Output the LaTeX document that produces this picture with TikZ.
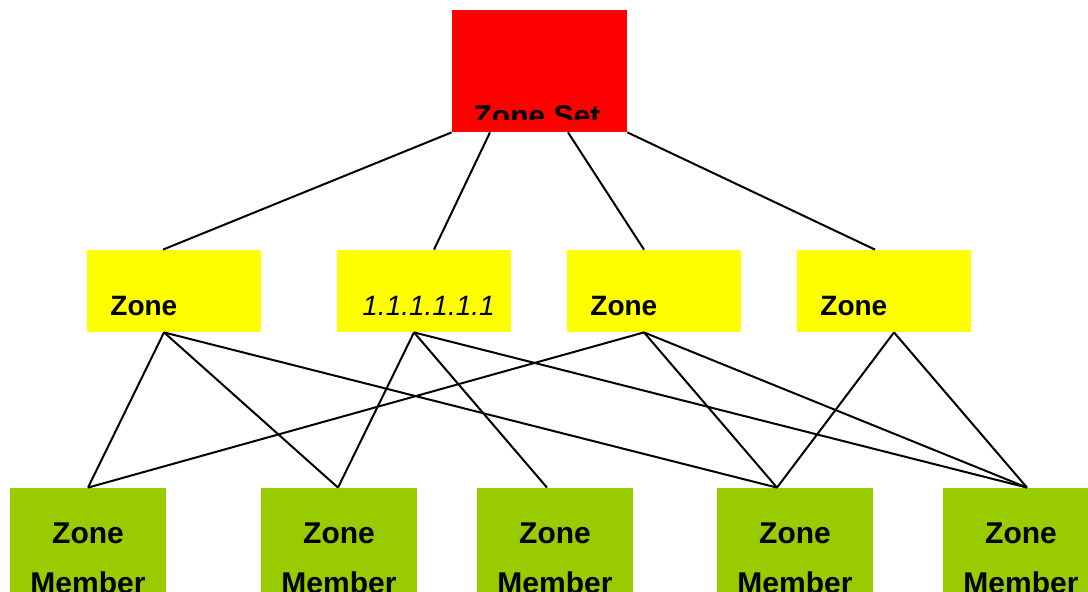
\documentclass[tikz,border=0pt]{standalone}
\usepackage{fontspec}
\setmainfont{Liberation Sans}
\usetikzlibrary{positioning}
\definecolor{setred}{HTML}{FF0000}
\definecolor{zoneyellow}{HTML}{FFFF00}
\definecolor{membergreen}{HTML}{99CC00}

\begin{document}
\begin{tikzpicture}[
    x=0.5pt, y=-0.5pt,
    font=\fontsize{14}{25}\selectfont,
    zoneset/.style={
		rectangle,
		fill=setred,
		minimum width=87.5pt,
		minimum height=61pt,
		inner sep=0pt
	},
    zone/.style={
		rectangle,
		fill=zoneyellow,
		minimum width=87pt,
		minimum height=41pt,
		inner sep=0pt
	},
    member/.style={
		rectangle,
		fill=membergreen,
		minimum width=78pt,
		minimum height=60pt,
		inner sep=0pt
	},
	boxtext/.style={
		inner sep=0pt,
		font=\fontsize{14}{25}\selectfont\bfseries
	},
	bigtext/.style={
		inner sep=0pt,
		font=\fontsize{15}{25}\selectfont\bfseries
	},
	link/.style={
		draw=black,
		line width=1pt
	}
  ]
  \clip (0,0) rectangle (1088,592);
    % We start by placing the blocks
  \node [zoneset] (set) at (539.5,71) {};
  \begin{scope}
    \clip (452,10) rectangle (627,120);
    \node [bigtext, anchor=base] (settext) at (537,127) {Zone Set};
  \end{scope}

  \node [zone] (zone1) at (174,291) {};
  \node [zone] (zone2) at (424,291) {};
  \node [zone] (zone3) at (654,291) {};
  \node [zone] (zone4) at (884,291) {};

  \node [boxtext, anchor=base west] (zone1text) at (110,316) {Zone};
  \node [boxtext, anchor=base west, font=\fontsize{14}{25}\selectfont\itshape] (zone2text) at (362,316) {1.1.1.1.1.1};
  \node [boxtext, anchor=base west] (zone3text) at (590,316) {Zone};
  \node [boxtext, anchor=base west] (zone4text) at (820,316) {Zone};

  \foreach \x [count=\i] in {88,339,555,795,1021} {
    \node [member] (member\i) at (\x,548) {};
    \node [bigtext, anchor=north, align=center] (member\i text) at (\x,522.5) {Zone\\Member};
  }

  % end points of the links
  \coordinate (s1) at (set.south west);
  \coordinate (s2) at ([xshift=-24.75pt]set.south);
  \coordinate (s3) at ([xshift=14.25pt]set.south);
  \coordinate (s4) at (set.south east);
  \coordinate (z1t) at ([xshift=-5.5pt]zone1.north);
  \coordinate (z2t) at ([xshift=5pt]zone2.north);
  \coordinate (z3t) at ([xshift=-5pt]zone3.north);
  \coordinate (z4t) at ([xshift=-4.5pt]zone4.north);
  \coordinate (z1b) at ([xshift=-5pt]zone1.south);
  \coordinate (z2b) at ([xshift=-5pt]zone2.south);
  \coordinate (z3b) at ([xshift=-5pt]zone3.south);
  \coordinate (z4b) at ([xshift=5pt]zone4.south);
  \coordinate (m1t) at (member1.north);
  \coordinate (m2t) at ([xshift=-0.5pt]member2.north);
  \coordinate (m3t) at ([xshift=-4pt]member3.north);
  \coordinate (m4t) at ([xshift=-9pt]member4.north);
  \coordinate (m5t) at ([xshift=3pt]member5.north);

  \draw [link] (s1) -- (z1t);
  \draw [link] (s2) -- (z2t);
  \draw [link] (s3) -- (z3t);
  \draw [link] (s4) -- (z4t);

  \draw [link] (z1b) -- (m1t);
  \draw [link] (z1b) -- (m2t);
  \draw [link] (z1b) -- (m4t);
  \draw [link] (z2b) -- (m2t);
  \draw [link] (z2b) -- (m3t);
  \draw [link] (z2b) -- (m5t);
  \draw [link] (z3b) -- (m1t);
  \draw [link] (z3b) -- (m4t);
  \draw [link] (z3b) -- (m5t);
  \draw [link] (z4b) -- (m4t);
  \draw [link] (z4b) -- (m5t);

\end{tikzpicture}
\end{document}
